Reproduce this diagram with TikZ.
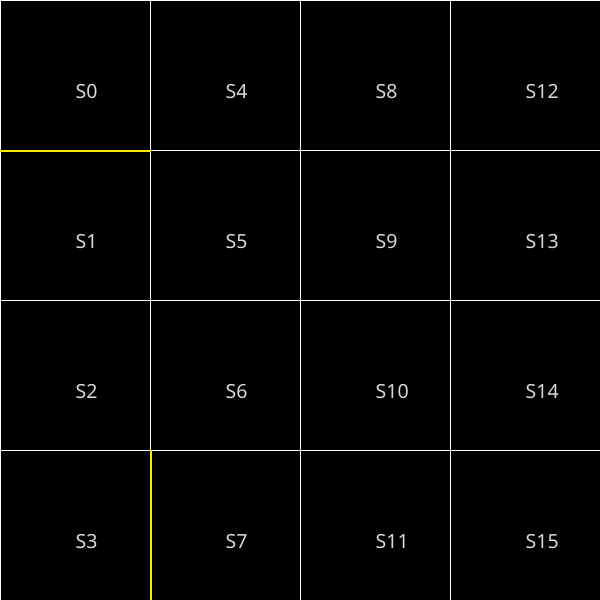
\documentclass[tikz,border=0pt]{standalone}
\usepackage{fontspec}
\setmainfont{Noto Sans}
\begin{document}
\begin{tikzpicture}[x=1pt,y=-1pt,
  cellbox/.style={fill=black,draw=white,line width=1pt},
  lbl/.style={text=white!85!black,font=\fontsize{19.5}{22}\selectfont,inner sep=0pt,anchor=base west},
  hl/.style={draw=yellow!90!orange,line width=1.2pt}]
\useasboundingbox (0,0) rectangle (600,600);
\fill[black] (0,0) rectangle (600,600);
\foreach \c in {0,1,2,3}{
  \foreach \r in {0,1,2,3}{
    \pgfmathtruncatemacro{\n}{4*\c+\r}
    \node[cellbox,minimum size=150pt,inner sep=0pt,anchor=north west] (c\n) at (150*\c,150*\r) {};
    \node[lbl] (t\n) at (150*\c+75.5,150*\r+98) {S\n};
  }
}
\draw[hl] (c0.south west) -- (c0.south east);
\draw[hl] (c3.north east) -- (c3.south east);
\end{tikzpicture}
\end{document}
